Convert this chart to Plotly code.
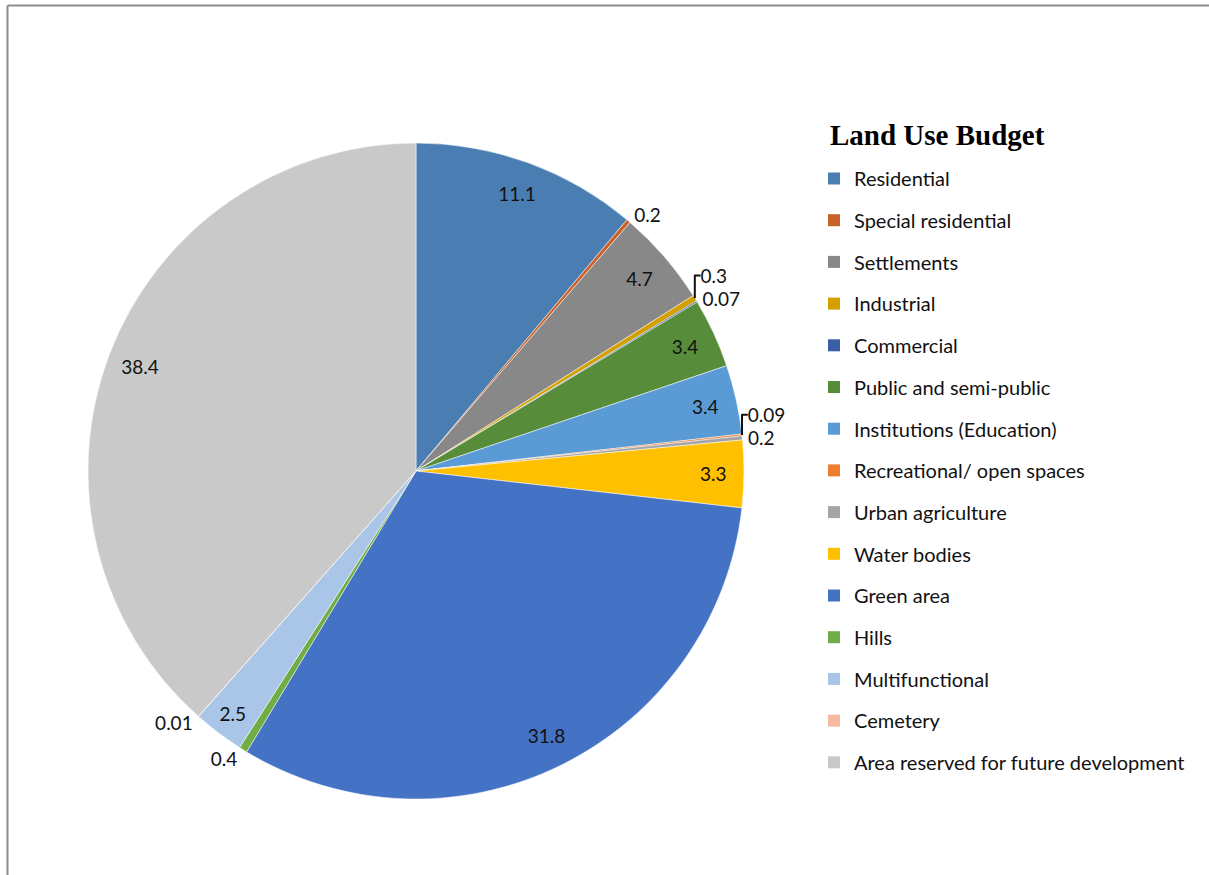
import plotly.graph_objects as go

categories = ["Residential", "Special residential", "Settlements", "Industrial", "Commercial",
              "Public and semi-public", "Institutions (Education)", "Recreational/ open spaces",
              "Urban agriculture", "Water bodies", "Green area", "Hills", "Multifunctional",
              "Cemetery", "Area reserved for future development"]
values = [11.1, 0.2, 4.7, 0.3, 0.07, 3.4, 3.4, 0.09, 0.2, 3.3, 31.8, 0.4, 2.5, 0.01, 38.4]
colors = ["#4A7EB3", "#C8622A", "#888888", "#D4A000", "#3A5FA8", "#568C3A", "#5B9BD5", "#ED7D31",
          "#A5A5A5", "#FFC000", "#4472C4", "#70AD47", "#A9C5E8", "#F4B9A0", "#C9C9C9"]
title_text = "Land Use Budget"

big = [v >= 1 for v in values]
W, H = 1209, 875
cx, cy, R = 416, 471, 328
dom = dict(x=[(cx - R) / W, (cx + R) / W], y=[1 - (cy + R) / H, 1 - (cy - R) / H])
lab_font = dict(family="Lato", size=19, color="#111111")

fig = go.Figure()
# coloured pie with outside labels for the thin slices
fig.add_trace(go.Pie(
    labels=categories, values=values, sort=False, direction="clockwise", rotation=0,
    marker=dict(colors=colors, line=dict(color="white", width=0.5)),
    textinfo="value", textposition=["none" if b else "outside" for b in big],
    textfont=lab_font, showlegend=False, domain=dom, hoverinfo="label+value",
))
# transparent ring on top carrying the inside labels near the rim
fig.add_trace(go.Pie(
    labels=categories, values=values, sort=False, direction="clockwise", rotation=0, hole=0.8,
    marker=dict(colors=["rgba(0,0,0,0)"] * len(values), line=dict(width=0)),
    textinfo="value", textposition=["inside" if b else "none" for b in big],
    insidetextorientation="horizontal",
    textfont=lab_font, showlegend=False, domain=dom, hoverinfo="skip",
))
for c, col in zip(categories, colors):
    fig.add_trace(go.Scatter(x=[None], y=[None], mode="markers", name=c, legendgroup=c,
                             marker=dict(symbol="square", size=12, color=col)))

fig.update_layout(
    width=W, height=H, margin=dict(l=0, r=0, t=0, b=0),
    paper_bgcolor="white", plot_bgcolor="white",
    xaxis=dict(visible=False), yaxis=dict(visible=False),
    uniformtext=dict(minsize=19, mode="show"),
    legend=dict(x=814 / W, y=1 - 159 / H, xanchor="left", yanchor="top",
                font=dict(family="Lato", size=20, color="#111111"),
                tracegroupgap=12.7),
    annotations=[dict(text="<b>" + title_text + "</b>", xref="paper", yref="paper",
                      x=828 / W, y=1 - 135 / H, xanchor="left", yanchor="middle", showarrow=False,
                      font=dict(family="Liberation Serif", size=29, color="#000000"))],
    shapes=[dict(type="line", xref="paper", yref="paper", x0=7.5 / W, x1=1, y0=1 - 5.5 / H, y1=1 - 5.5 / H,
                 line=dict(color="#8C8C8C", width=2)),
            dict(type="line", xref="paper", yref="paper", x0=7.5 / W, x1=7.5 / W, y0=0, y1=1 - 5.5 / H,
                 line=dict(color="#8C8C8C", width=2))],
)
fig.write_html("out.html")
